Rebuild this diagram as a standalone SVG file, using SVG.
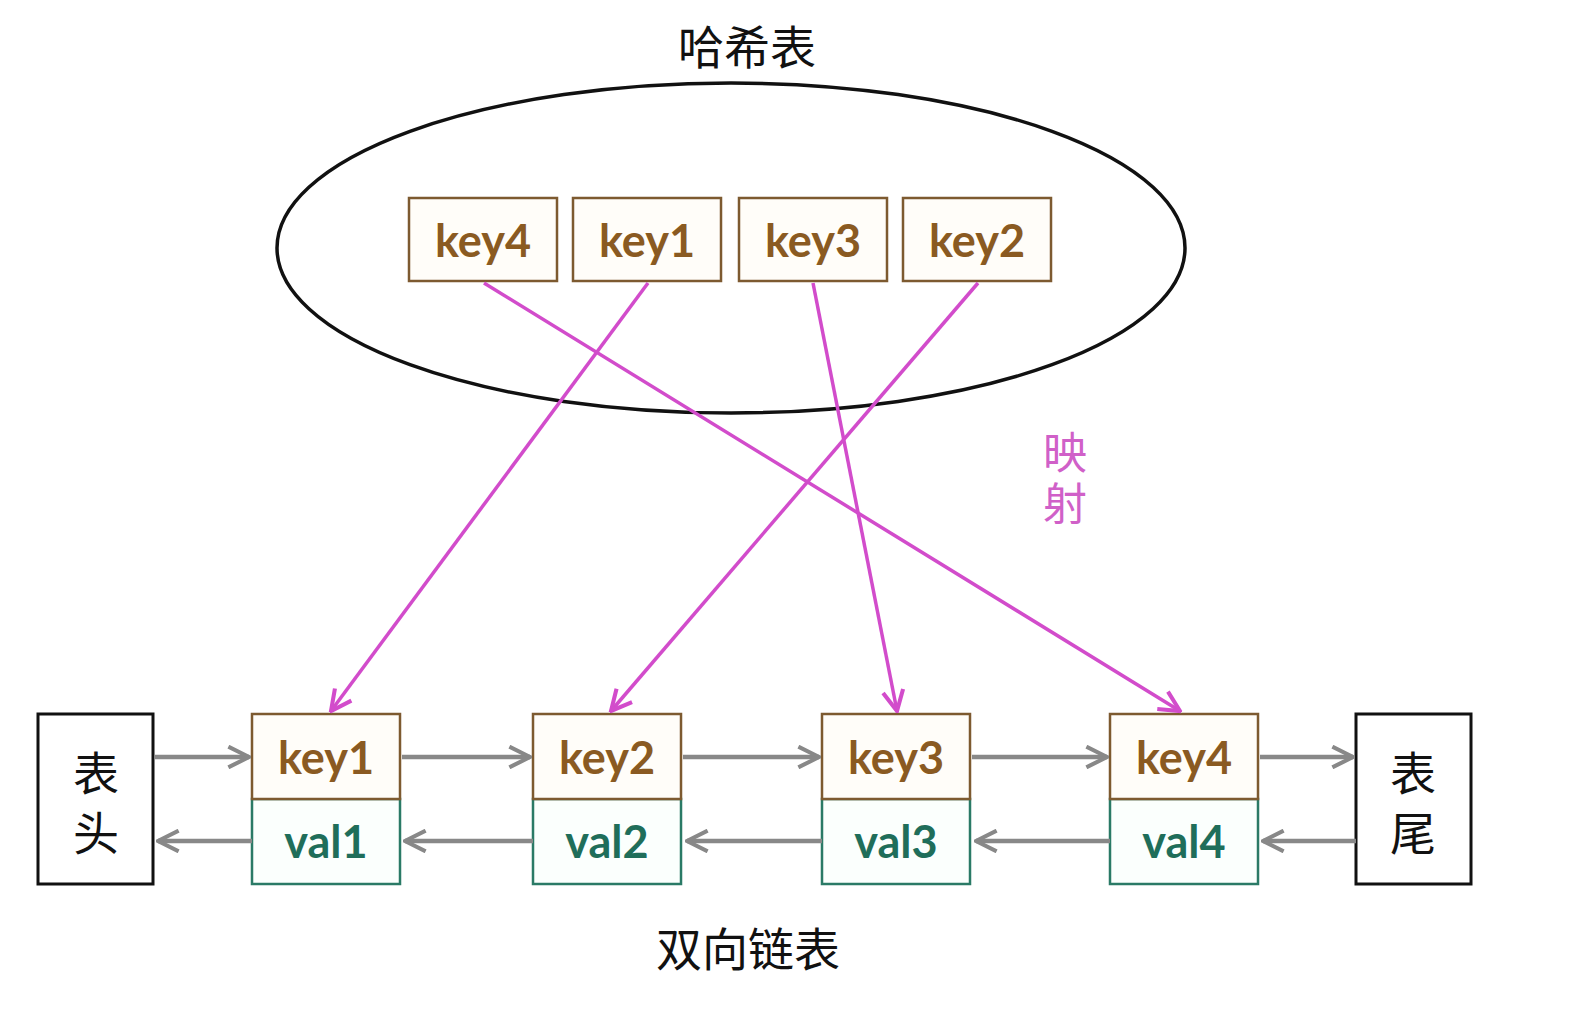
<svg xmlns="http://www.w3.org/2000/svg" width="1574" height="1014" viewBox="0 0 1574 1014">
<defs>
<style>
.kbox{fill:#fffdf9;stroke:#7d5a30;stroke-width:2.5}
.vbox{fill:#fbfffd;stroke:#2a7a66;stroke-width:2.5}
.blk{fill:#fff;stroke:#111;stroke-width:3}
.kt{font-family:Lato,"Open Sans",sans-serif;font-weight:bold;font-size:45px;fill:#8a5a22;text-anchor:middle}
.vt{font-family:Lato,"Open Sans",sans-serif;font-weight:bold;font-size:45px;fill:#1f6e5a;text-anchor:middle}
.cj{font-family:"Noto Sans CJK SC",sans-serif;font-size:46px;fill:#111;text-anchor:middle}
.gl{stroke:#888;stroke-width:4.5;fill:none}
.mg{stroke:#d24ccb;stroke-width:3.5;fill:none}
</style>
<marker id="ga" viewBox="0 0 12 12" refX="11" refY="6" markerWidth="5.5" markerHeight="5.5" orient="auto" markerUnits="strokeWidth">
<path d="M1,1 L11,6 L1,11" fill="none" stroke="#888" stroke-width="2"/>
</marker>
<marker id="ma" viewBox="0 0 12 12" refX="11" refY="6" markerWidth="7" markerHeight="7" orient="auto" markerUnits="strokeWidth">
<path d="M1,1 L11,6 L1,11" fill="none" stroke="#d24ccb" stroke-width="2"/>
</marker>
</defs>
<rect width="1574" height="1014" fill="#fff"/>
<g id="hashtable">
<ellipse cx="731" cy="248" rx="454" ry="165" fill="none" stroke="#111" stroke-width="3.5"/>
<text class="cj" x="747" y="64">哈希表</text>
</g>
<g id="hk4"><rect class="kbox" x="409" y="198" width="148" height="83"/><text class="kt" x="483" y="257">key4</text></g>
<g id="hk1"><rect class="kbox" x="573" y="198" width="148" height="83"/><text class="kt" x="647" y="257">key1</text></g>
<g id="hk3"><rect class="kbox" x="739" y="198" width="148" height="83"/><text class="kt" x="813" y="257">key3</text></g>
<g id="hk2"><rect class="kbox" x="903" y="198" width="148" height="83"/><text class="kt" x="977" y="257">key2</text></g>
<g id="head"><rect class="blk" x="38" y="714" width="115" height="170"/><text class="cj" x="96" y="790" font-size="50">表</text><text class="cj" x="96" y="850" font-size="50">头</text></g>
<g id="tail"><rect class="blk" x="1356" y="714" width="115" height="170"/><text class="cj" x="1413" y="790" font-size="50">表</text><text class="cj" x="1413" y="850" font-size="50">尾</text></g>
<g id="n1"><rect class="vbox" x="252" y="799" width="148" height="85"/><rect class="kbox" x="252" y="714" width="148" height="85"/><text class="kt" x="326" y="774">key1</text><text class="vt" x="326" y="858">val1</text></g>
<g id="n2"><rect class="vbox" x="533" y="799" width="148" height="85"/><rect class="kbox" x="533" y="714" width="148" height="85"/><text class="kt" x="607" y="774">key2</text><text class="vt" x="607" y="858">val2</text></g>
<g id="n3"><rect class="vbox" x="822" y="799" width="148" height="85"/><rect class="kbox" x="822" y="714" width="148" height="85"/><text class="kt" x="896" y="774">key3</text><text class="vt" x="896" y="858">val3</text></g>
<g id="n4"><rect class="vbox" x="1110" y="799" width="148" height="85"/><rect class="kbox" x="1110" y="714" width="148" height="85"/><text class="kt" x="1184" y="774">key4</text><text class="vt" x="1184" y="858">val4</text></g>
<g id="connectors">
<line class="gl" x1="155" y1="757" x2="249" y2="757" marker-end="url(#ga)"/>
<line class="gl" x1="402" y1="757" x2="530" y2="757" marker-end="url(#ga)"/>
<line class="gl" x1="683" y1="757" x2="819" y2="757" marker-end="url(#ga)"/>
<line class="gl" x1="972" y1="757" x2="1107" y2="757" marker-end="url(#ga)"/>
<line class="gl" x1="1260" y1="757" x2="1353" y2="757" marker-end="url(#ga)"/>
<line class="gl" x1="252" y1="841" x2="158" y2="841" marker-end="url(#ga)"/>
<line class="gl" x1="533" y1="841" x2="405" y2="841" marker-end="url(#ga)"/>
<line class="gl" x1="822" y1="841" x2="687" y2="841" marker-end="url(#ga)"/>
<line class="gl" x1="1110" y1="841" x2="976" y2="841" marker-end="url(#ga)"/>
<line class="gl" x1="1356" y1="841" x2="1263" y2="841" marker-end="url(#ga)"/>
<line class="mg" x1="484" y1="283" x2="1180" y2="711" marker-end="url(#ma)"/>
<line class="mg" x1="648" y1="283" x2="331" y2="711" marker-end="url(#ma)"/>
<line class="mg" x1="813" y1="283" x2="897" y2="711" marker-end="url(#ma)"/>
<line class="mg" x1="978" y1="283" x2="611" y2="711" marker-end="url(#ma)"/>
</g>
<g id="mapping-label">
<text x="1065" y="430" font-family="'Noto Sans CJK SC',sans-serif" font-size="44" letter-spacing="7" fill="#d060c8" style="writing-mode:vertical-rl">映射</text>
</g>
<g id="list-label"><text class="cj" x="748" y="966">双向链表</text></g>
</svg>
